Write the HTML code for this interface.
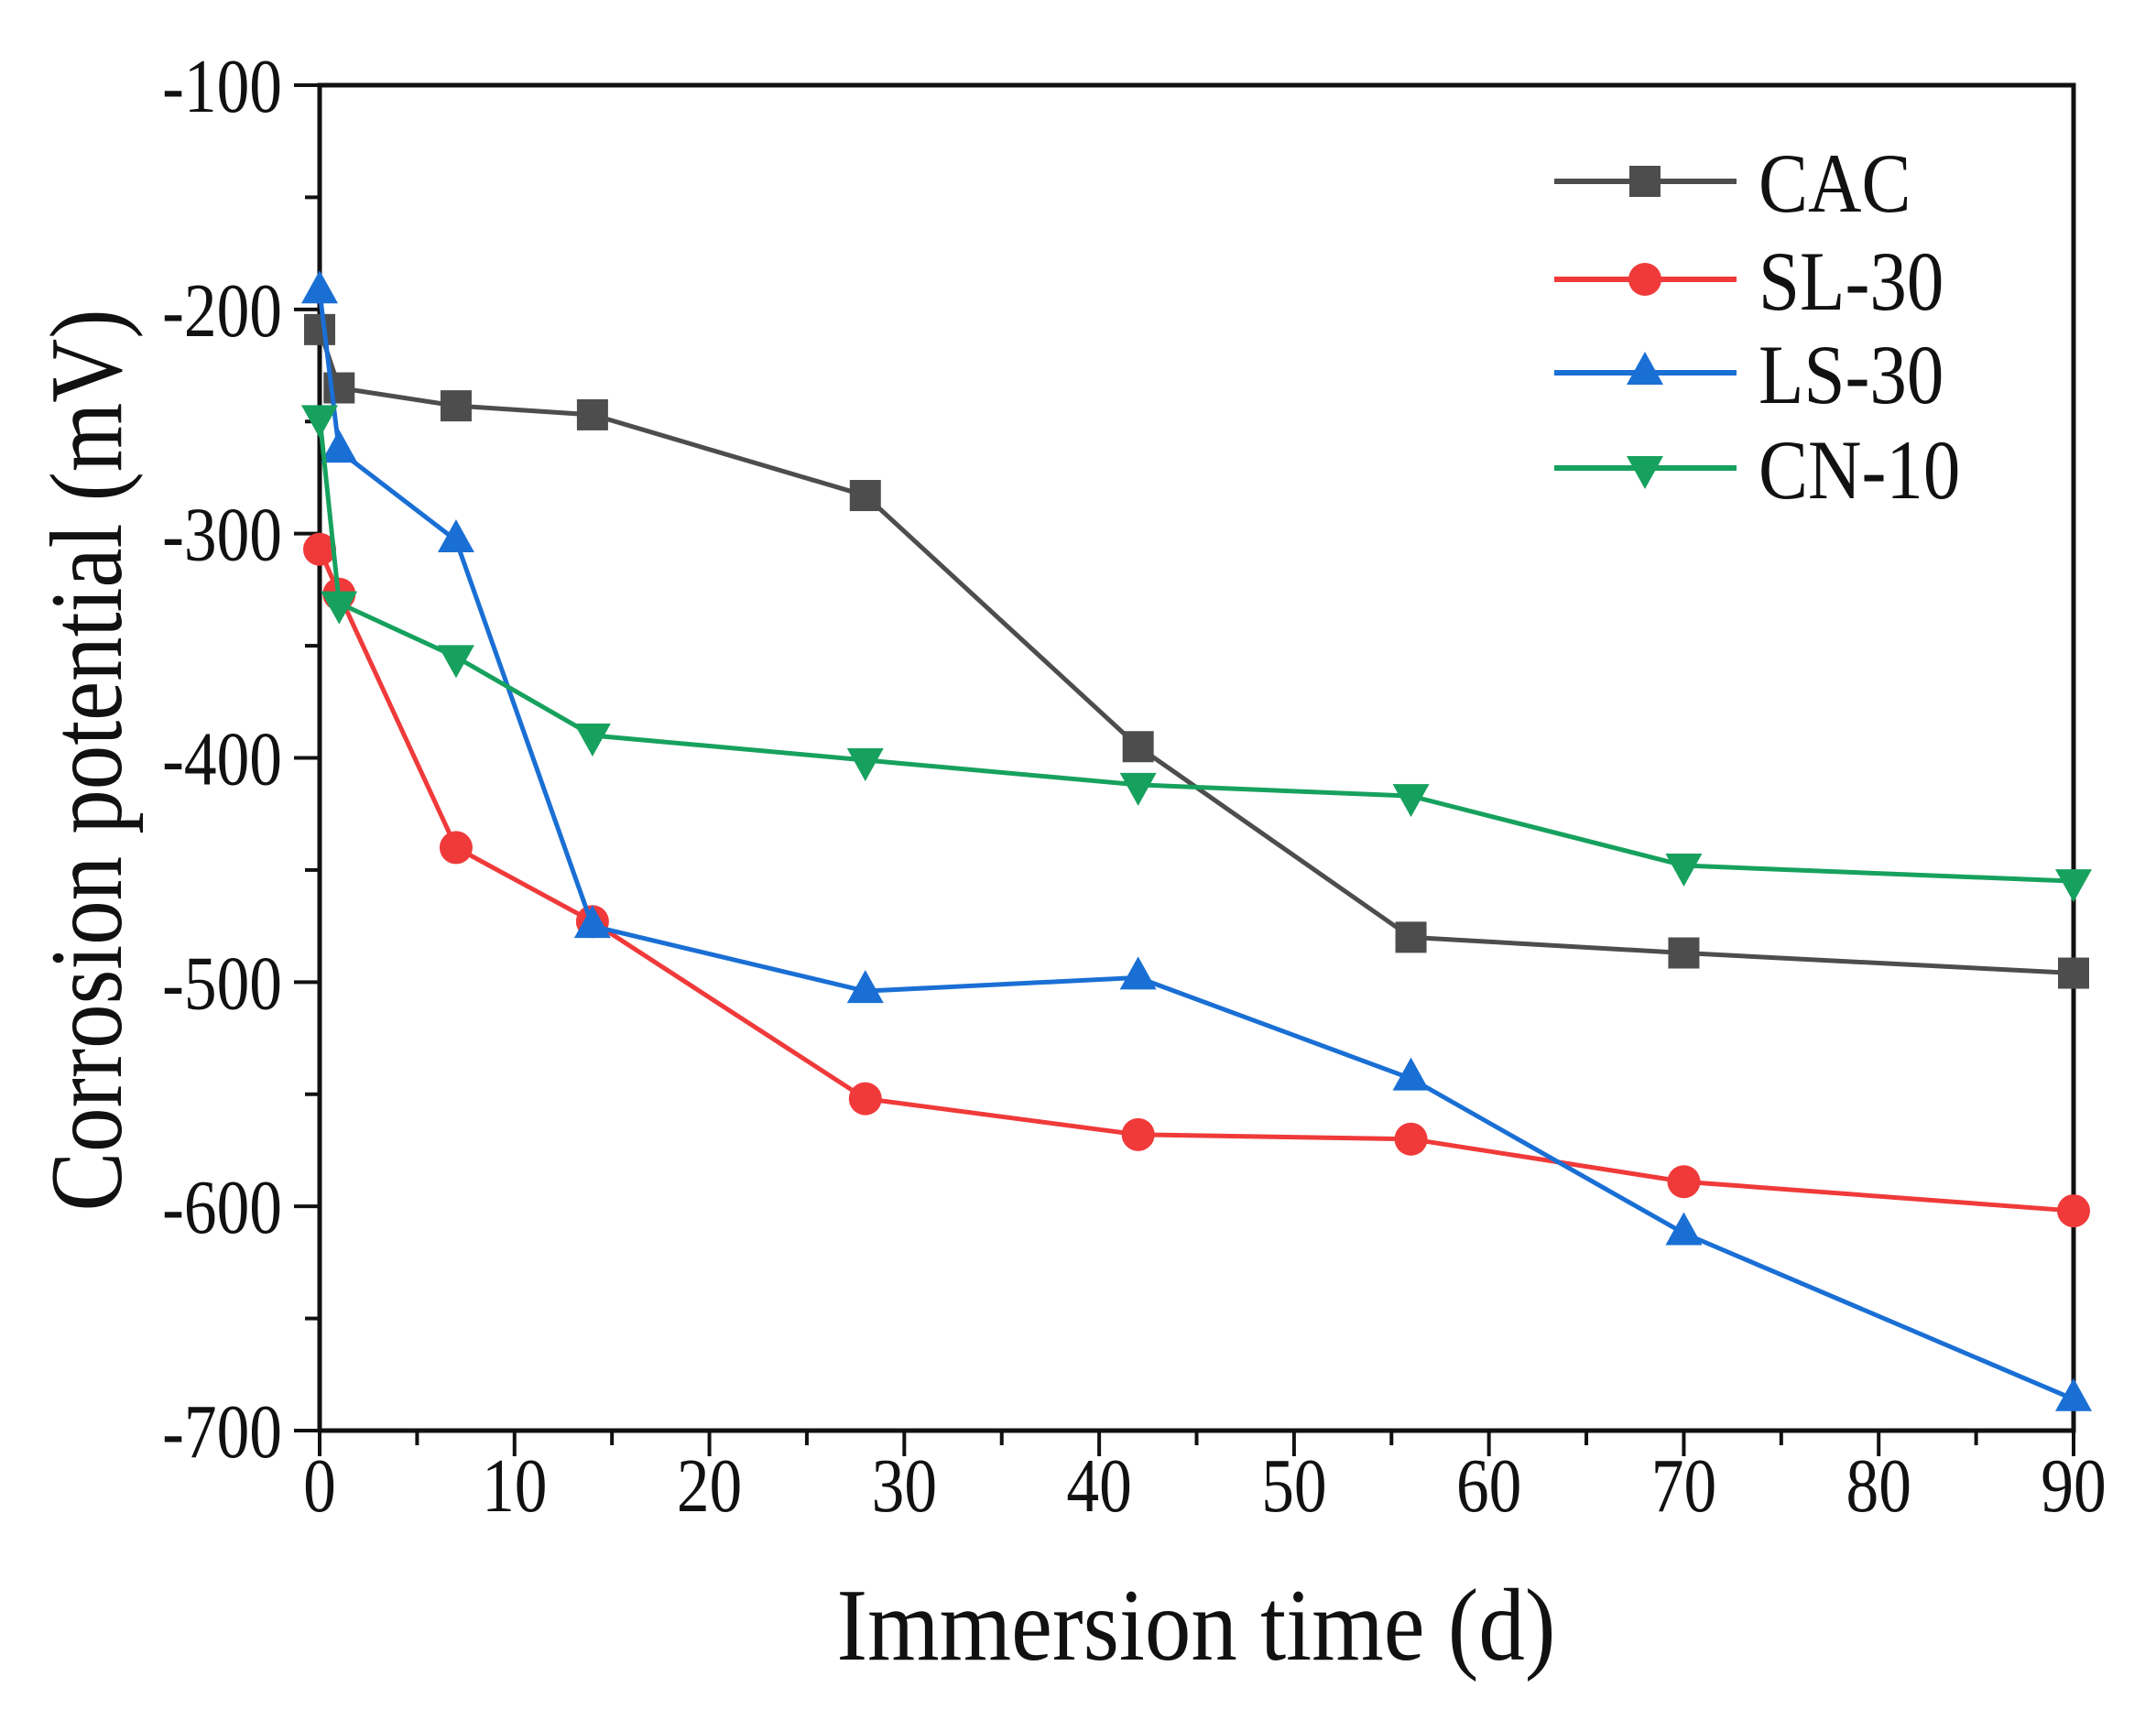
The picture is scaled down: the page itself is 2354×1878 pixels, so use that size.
<!DOCTYPE html>
<html><head><meta charset="utf-8"><style>
html,body{margin:0;padding:0;background:#fff}
svg{display:block}
text{font-family:"Liberation Serif",serif;fill:#111}
</style></head><body>
<svg id="chart" width="2354" height="1878" viewBox="0 0 2354 1878" xmlns="http://www.w3.org/2000/svg">
<g id="axes"></g>
<g id="series"></g>
<g id="legend"></g>
<text x="1306" y="1812" font-size="112" text-anchor="middle" textLength="785" lengthAdjust="spacingAndGlyphs">Immersion time (d)</text>
<text transform="translate(132,830) rotate(-90)" font-size="112" text-anchor="middle" textLength="985" lengthAdjust="spacingAndGlyphs">Corrosion potential (mV)</text>
</svg>
<script>
const days = [0, 1, 7, 14, 28, 42, 56, 70, 90];
const seriesNames = ["CAC", "SL-30", "LS-30", "CN-10"];
const cacValues = [-209, -235, -243, -247, -283, -395, -480, -487, -496];
const sl30Values = [-307, -327, -440, -473, -552, -568, -570, -589, -602];
const ls30Values = [-192, -263, -303, -475, -504, -498, -543, -612, -686];
const cn10Values = [-248, -331, -355, -390, -401, -412, -417, -448, -455];
const xTicks = [0, 10, 20, 30, 40, 50, 60, 70, 80, 90];
const yTicks = [-100, -200, -300, -400, -500, -600, -700];

const NS = "http://www.w3.org/2000/svg";
const X0 = 349, X1 = 2264, Y0 = 93, Y1 = 1562;
function xs(v){ return X0 + (v - 0) / 90 * (X1 - X0); }
function ys(v){ return Y0 + (-100 - v) / 600 * (Y1 - Y0); }
function mk(tag, attrs, parent){ const e = document.createElementNS(NS, tag); for (const k in attrs) e.setAttribute(k, attrs[k]); parent.appendChild(e); return e; }

const axes = document.getElementById('axes');
const frame = mk('rect', {x:X0, y:Y0, width:X1-X0, height:Y1-Y0, fill:'none', stroke:'#111', 'stroke-width':5}, axes);


for (let v = 0; v <= 90; v += 5) {
  const t = mk('line', {x1:xs(v), x2:xs(v), y1:Y1, y2:Y1 + (v % 10 === 0 ? 28 : 16), stroke:'#111', 'stroke-width':4}, axes);
  
  
}
for (let v = -100; v >= -700; v -= 50) {
  const t = mk('line', {x1:X0, x2:X0 - (v % 100 === 0 ? 28 : 16), y1:ys(v), y2:ys(v), stroke:'#111', 'stroke-width':4}, axes);
  
  
}
xTicks.forEach(v => {
  const t = mk('text', {x:xs(v), y:1650, 'font-size':84, 'text-anchor':'middle', transform:`translate(${xs(v)*0.15},0) scale(0.85,1)`}, axes);
  t.textContent = String(v);
  
  
});
yTicks.forEach(v => {
  const t = mk('text', {x:308, y:ys(v) + 29, 'font-size':84, 'text-anchor':'end', transform:`translate(${308*0.15},0) scale(0.85,1)`}, axes);
  t.textContent = String(v);
  
  
});

const colors = ['#4d4d4d', '#f03a3a', '#1a6fd4', '#17a15e'];
const shapes = ['square', 'circle', 'up', 'down'];
const allValues = [cacValues, sl30Values, ls30Values, cn10Values];
function marker(g, shape, cx, cy, color){
  let m;
  if (shape === 'square') m = mk('rect', {x:cx-17, y:cy-17, width:34, height:34, fill:color}, g);
  else if (shape === 'circle') m = mk('circle', {cx:cx, cy:cy, r:18, fill:color}, g);
  else if (shape === 'up') m = mk('polygon', {points:`${cx},${cy-23} ${cx+20},${cy+13} ${cx-20},${cy+13}`, fill:color}, g);
  else m = mk('polygon', {points:`${cx},${cy+23} ${cx+20},${cy-13} ${cx-20},${cy-13}`, fill:color}, g);
  return m;
}
const sg = document.getElementById('series');
allValues.forEach((vals, i) => {
  const g = mk('g', {}, sg);
  
  
  const pl = mk('polyline', {points: vals.map((v, j) => xs(days[j]) + ',' + ys(v)).join(' '), fill:'none', stroke:colors[i], 'stroke-width':5}, g);
  
  
  vals.forEach((v, j) => {
    const m = marker(g, shapes[i], xs(days[j]), ys(v), colors[i]);
    
    
  });
});

const lg = document.getElementById('legend');
const rowsY = [198, 305, 407, 511];
seriesNames.forEach((name, i) => {
  const g = mk('g', {}, lg);
  
  
  mk('line', {x1:1697, x2:1896, y1:rowsY[i], y2:rowsY[i], stroke:colors[i], 'stroke-width':6}, g);
  marker(g, shapes[i], 1796, rowsY[i], colors[i]);
  const t = mk('text', {x:1920, y:rowsY[i] + 33, 'font-size':92, transform:`translate(${1920*0.12},0) scale(0.88,1)`}, g);
  t.textContent = name;
  
  
});
</script>
</body></html>
